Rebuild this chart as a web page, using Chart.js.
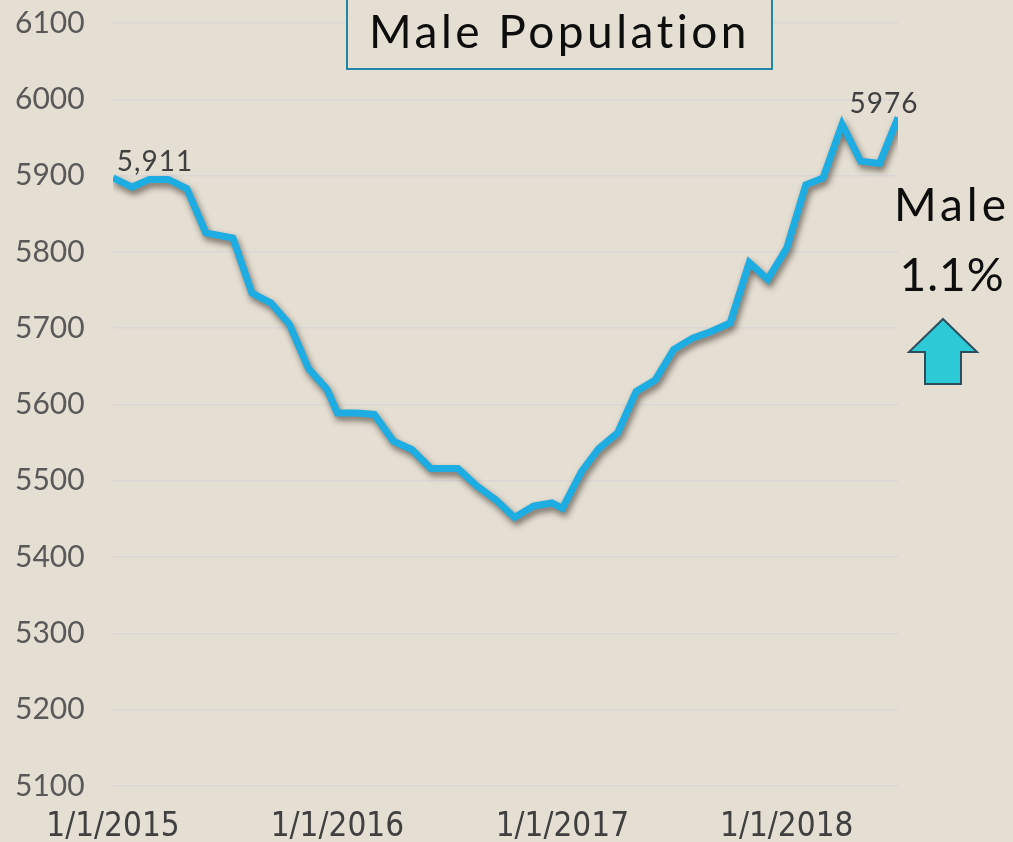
<!DOCTYPE html>
<html>
<head>
<meta charset="utf-8">
<script src="https://cdn.jsdelivr.net/npm/chart.js@4.4.1/dist/chart.umd.min.js"></script>
<style>
  html, body { margin: 0; padding: 0; background: #E4DED3; }
  #wrap { width: 1013px; height: 842px; position: relative; }
</style>
</head>
<body>
<div id="wrap"><canvas id="c" width="1013" height="842"></canvas></div>
<script>
// ---- data ----
const dates = [
  "2015-01-01","2015-02-01","2015-03-01","2015-04-01","2015-05-01","2015-06-01",
  "2015-07-15","2015-08-15","2015-09-15","2015-10-15","2015-11-15","2015-12-15",
  "2016-01-01","2016-02-01","2016-03-01","2016-04-01","2016-05-01","2016-06-01",
  "2016-07-15","2016-08-15","2016-09-15","2016-10-15","2016-11-15","2016-12-15",
  "2017-01-01","2017-02-01","2017-03-01","2017-04-01","2017-05-01","2017-06-01",
  "2017-07-01","2017-08-01","2017-09-01","2017-10-01","2017-11-01","2017-12-01",
  "2018-01-01","2018-02-01","2018-03-01","2018-04-01","2018-05-01","2018-06-01",
  "2018-07-01"
];
const malePopulation = [
  5897, 5885, 5895, 5895, 5883, 5825, 5818, 5746, 5733, 5705, 5647, 5620,
  5589, 5589, 5587, 5552, 5541, 5516, 5516, 5493, 5475, 5452, 5467, 5471,
  5464, 5512, 5542, 5563, 5617, 5632, 5672, 5687, 5696, 5707, 5786, 5764,
  5805, 5888, 5897, 5967, 5919, 5916, 5976
];
const tickDates = ["2015-01-01","2016-01-01","2017-01-01","2018-01-01"];
const tickLabels = ["1/1/2015","1/1/2016","1/1/2017","1/1/2018"];
const yMin = 5100, yMax = 6100, yStep = 100;
const pointLabelIndex = [0, 42];
const pointLabelText = ["5,911", "5976"];
const titleText = "Male Population";
const sideLabel = "Male";
const sideChange = "1.1%";

// ---- helpers ----
const origin = Date.UTC(2015, 0, 1);
function dayOf(s) {
  const p = s.split("-").map(Number);
  return Math.round((Date.UTC(p[0], p[1] - 1, p[2]) - origin) / 86400000);
}
const xDays = dates.map(dayOf);
const tickDays = tickDates.map(dayOf);
const points = xDays.map((d, i) => ({ x: d, y: malePopulation[i] }));

const BG = "#E4DED3";
const geo = "Lato, 'Open Sans', sans-serif";
const narrow = "'Liberation Sans Narrow', 'DejaVu Sans Condensed', sans-serif";

const bgPlugin = {
  id: "bg",
  beforeDraw(chart) {
    const ctx = chart.ctx;
    ctx.save();
    ctx.fillStyle = BG;
    ctx.fillRect(0, 0, chart.width, chart.height);
    ctx.restore();
  }
};

const shadowPlugin = {
  id: "shadow",
  beforeDatasetDraw(chart) {
    const ctx = chart.ctx;
    ctx.save();
    ctx.shadowColor = "rgba(40,30,20,0.6)";
    ctx.shadowBlur = 6;
    ctx.shadowOffsetX = 2;
    ctx.shadowOffsetY = 4;
  },
  afterDatasetDraw(chart) {
    chart.ctx.restore();
  }
};

const annotPlugin = {
  id: "annot",
  afterDraw(chart) {
    const ctx = chart.ctx;
    ctx.save();
    // point labels
    const meta = chart.getDatasetMeta(0);
    ctx.fillStyle = "#404040";
    ctx.font = "28px " + geo;
    ctx.textBaseline = "alphabetic";
    ctx.textAlign = "center";
    try { ctx.letterSpacing = "1px"; } catch (e) {}
    pointLabelIndex.forEach((idx, k) => {
      const el = meta.data[idx];
      const dx = k === 0 ? 42 : -14;
      const dy = k === 0 ? -7 : -5;
      ctx.fillText(pointLabelText[k], el.x + dx, el.y + dy);
    });

    // title box
    const bx = 347, by = -2, bw = 425, bh = 71;
    ctx.fillStyle = BG;
    ctx.fillRect(bx, by, bw, bh);
    ctx.strokeStyle = "#2484A6";
    ctx.lineWidth = 2;
    ctx.strokeRect(bx, by, bw, bh);
    ctx.fillStyle = "#0D0D0D";
    ctx.font = "46px " + geo;
    ctx.textAlign = "center";
    ctx.textBaseline = "alphabetic";
    try { ctx.letterSpacing = "3.5px"; } catch (e) {}
    ctx.fillText(titleText, bx + bw / 2, 48);

    // side annotation
    ctx.font = "46px " + geo;
    try { ctx.letterSpacing = "4px"; } catch (e) {}
    ctx.fillText(sideLabel, 952, 221);
    try { ctx.letterSpacing = "1px"; } catch (e) {}
    ctx.fillText(sideChange, 952, 291);
    try { ctx.letterSpacing = "0px"; } catch (e) {}

    // arrow
    ctx.beginPath();
    ctx.moveTo(943, 319);
    ctx.lineTo(977, 352);
    ctx.lineTo(961, 352);
    ctx.lineTo(961, 384);
    ctx.lineTo(925, 384);
    ctx.lineTo(925, 352);
    ctx.lineTo(909, 352);
    ctx.closePath();
    ctx.fillStyle = "#2CCAD6";
    ctx.fill();
    ctx.strokeStyle = "#2E4E5E";
    ctx.lineWidth = 2;
    ctx.lineJoin = "miter";
    ctx.stroke();
    ctx.restore();
  }
};

new Chart(document.getElementById("c"), {
  type: "line",
  data: {
    datasets: [{
      data: points,
      borderColor: "#1DADE2",
      borderWidth: 7,
      borderJoinStyle: "miter",
      borderCapStyle: "butt",
      pointRadius: 0,
      tension: 0,
      fill: false
    }]
  },
  options: {
    responsive: false,
    animation: false,
    events: [],
    layout: { padding: { top: 23, right: 115, left: 15, bottom: 0 } },
    plugins: { legend: { display: false }, tooltip: { enabled: false }, title: { display: false } },
    scales: {
      x: {
        type: "linear",
        min: 0,
        max: xDays[xDays.length - 1],
        grid: { display: false },
        border: { display: false },
        afterBuildTicks(scale) { scale.ticks = tickDays.map(v => ({ value: v })); },
        afterFit(scale) { scale.height = 56; },
        ticks: {
          autoSkip: false,
          maxRotation: 0,
          padding: 14,
          color: "#404040",
          font: { family: narrow, size: 33 },
          callback(v) { const i = tickDays.indexOf(v); return i >= 0 ? tickLabels[i] : ""; }
        }
      },
      y: {
        min: yMin,
        max: yMax,
        grid: { color: "#D9D8D6", lineWidth: 1.5, drawTicks: false },
        border: { display: false },
        afterFit(scale) { scale.width = 98; },
        ticks: {
          stepSize: yStep,
          padding: 0,
          crossAlign: "far",
          color: "#595959",
          font: { family: geo, size: 30 },
          callback(v) { return String(v); }
        }
      }
    }
  },
  plugins: [bgPlugin, shadowPlugin, annotPlugin]
});
</script>
</body>
</html>
